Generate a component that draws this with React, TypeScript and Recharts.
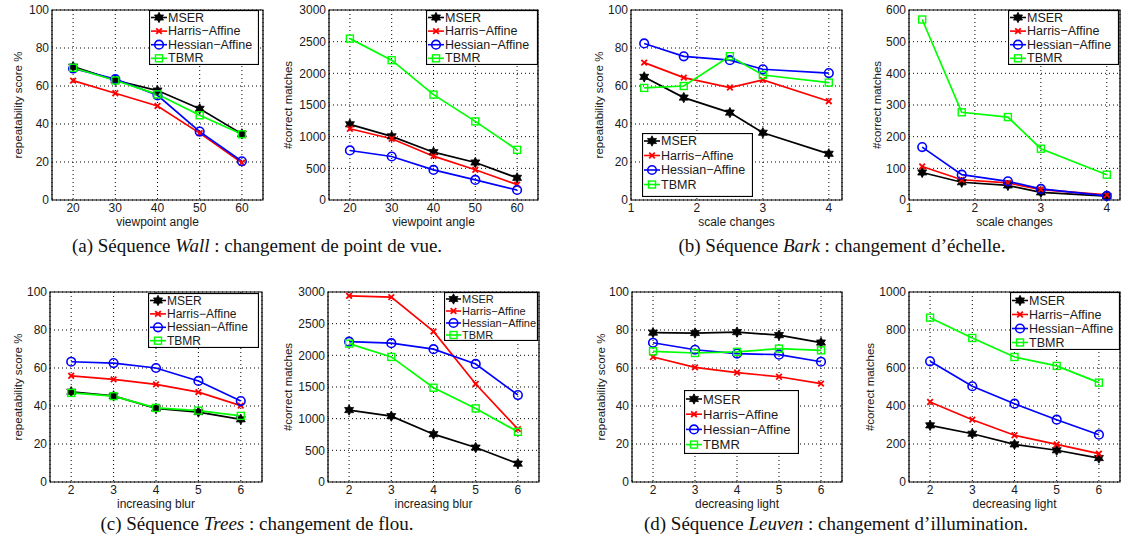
import { CartesianGrid, Legend, Line, LineChart, ReferenceArea, XAxis, YAxis } from "recharts";

const SANS = "'Liberation Sans', Arial, Helvetica, sans-serif";
const SERIF = "'Liberation Serif', 'Times New Roman', serif";

// x values
const wallAngles = [20, 30, 40, 50, 60];
const barkScales = [1.2, 1.8, 2.5, 3, 4];
const treesBlur = [2, 3, 4, 5, 6];
const leuvenLight = [2, 3, 4, 5, 6];

// (a) Wall
const wallRepMser = [70.2, 63, 57.6, 48, 34.8];
const wallRepHarris = [62.8, 56.2, 49.5, 35.2, 19.6];
const wallRepHessian = [69.2, 63.6, 55.1, 36, 20.4];
const wallRepTbmr = [69.6, 62.9, 55.6, 44.6, 34.6];
const wallMatchMser = [1195, 1005, 755, 592, 350];
const wallMatchHarris = [1125, 967, 692, 478, 243];
const wallMatchHessian = [782, 687, 475, 317, 158];
const wallMatchTbmr = [2548, 2208, 1664, 1241, 792];

// (b) Bark
const barkRepMser = [64.8, 53.9, 46, 35.4, 24.3];
const barkRepHarris = [72.3, 64.4, 59.2, 63.2, 52];
const barkRepHessian = [82.4, 75.6, 73.6, 68.8, 66.8];
const barkRepTbmr = [59, 60, 75.7, 65.8, 61.8];
const barkMatchMser = [87, 56, 46, 24, 12];
const barkMatchHarris = [106, 64, 54, 33, 16];
const barkMatchHessian = [167, 80, 59, 35, 13];
const barkMatchTbmr = [570, 277, 262, 162, 80];

// (c) Trees
const treesRepMser = [47.5, 45.3, 38.7, 36.8, 33];
const treesRepHarris = [55.9, 54, 51.4, 47.3, 40.2];
const treesRepHessian = [63.3, 62.6, 60, 53.2, 42.6];
const treesRepTbmr = [46.9, 45.2, 39, 37.6, 34.8];
const treesMatchMser = [1136, 1040, 755, 544, 290];
const treesMatchHarris = [2940, 2920, 2377, 1548, 835];
const treesMatchHessian = [2215, 2192, 2097, 1864, 1373];
const treesMatchTbmr = [2185, 1975, 1489, 1162, 792];

// (d) Leuven
const leuvenRepMser = [78.6, 78.4, 78.9, 77.3, 73.4];
const leuvenRepHarris = [65.8, 60.3, 57.6, 55.4, 51.8];
const leuvenRepHessian = [73.3, 69.6, 67.6, 67, 63.3];
const leuvenRepTbmr = [68.8, 67.9, 68.5, 70.2, 69.3];
const leuvenMatchMser = [298, 254, 198, 167, 126];
const leuvenMatchHarris = [421, 328, 246, 198, 149];
const leuvenMatchHessian = [635, 504, 412, 328, 249];
const leuvenMatchTbmr = [865, 758, 658, 611, 523];

// ticks
const angleTicks = [20, 30, 40, 50, 60];
const scaleTicks = [1, 2, 3, 4];
const stepTicks = [2, 3, 4, 5, 6];
const repTicks = [0, 20, 40, 60, 80, 100];
const match3000Ticks = [0, 500, 1000, 1500, 2000, 2500, 3000];
const match600Ticks = [0, 100, 200, 300, 400, 500, 600];
const match1000Ticks = [0, 200, 400, 600, 800, 1000];

const methodKeys = ["mser", "harris", "hessian", "tbmr"];
const methodNames = ["MSER", "Harris\u2212Affine", "Hessian\u2212Affine", "TBMR"];

const methodStyle: Record<string, { color: string; marker: string }> = {
  mser: { color: "#000000", marker: "star" },
  harris: { color: "#ff0000", marker: "cross" },
  hessian: { color: "#0000ff", marker: "circle" },
  tbmr: { color: "#00ff00", marker: "square" },
};

function buildRows(xs: number[], mser: number[], harris: number[], hessian: number[], tbmr: number[]) {
  return xs.map((x, i) => ({ x, mser: mser[i], harris: harris[i], hessian: hessian[i], tbmr: tbmr[i] }));
}

function Marker({ kind, cx, cy, color }: { kind: string; cx: number; cy: number; color: string }) {
  if (cx == null || cy == null) return null;
  if (kind === "star") {
    const pts: string[] = [];
    for (let i = 0; i < 12; i++) {
      const r = i % 2 === 0 ? 5.2 : 2.9;
      const a = ((-90 + i * 30) * Math.PI) / 180;
      pts.push(`${cx + r * Math.cos(a)},${cy + r * Math.sin(a)}`);
    }
    return <polygon points={pts.join(" ")} fill={color} stroke={color} strokeWidth={0.8} />;
  }
  if (kind === "cross") {
    const s = 2.8;
    return (
      <g stroke={color} strokeWidth={1.8}>
        <line x1={cx - s} y1={cy - s} x2={cx + s} y2={cy + s} />
        <line x1={cx - s} y1={cy + s} x2={cx + s} y2={cy - s} />
      </g>
    );
  }
  if (kind === "circle") {
    return <circle cx={cx} cy={cy} r={4.3} fill="none" stroke={color} strokeWidth={1.6} />;
  }
  return <rect x={cx - 3.5} y={cy - 3.5} width={7} height={7} fill="none" stroke={color} strokeWidth={1.4} />;
}

type LegendBox = { x: number; y: number; w: number; h: number; first: number; gap: number; fs: number; text: number };

type PanelProps = {
  left: number;
  top: number;
  w: number;
  h: number;
  rows: any[];
  xDomain: [number, number];
  xTicks: number[];
  yMax: number;
  yTicks: number[];
  xLabel: string;
  yLabel: string;
  yLabelGap: number;
  legend: LegendBox;
};

const YW = 50;
const MT = 10;

function Panel({ left, top, w, h, rows, xDomain, xTicks, yMax, yTicks, xLabel, yLabel, yLabelGap, legend }: PanelProps) {
  const chartLeft = left - YW;
  const chartTop = top - MT;
  const tick = { fontSize: 12, fontFamily: SANS, fill: "#1a1a1a" };
  return (
    <div style={{ position: "absolute", left: chartLeft, top: chartTop }}>
      <LineChart width={w + YW + 2} height={h + MT + 32} data={rows} margin={{ top: MT, right: 2, bottom: 0, left: 0 }}>
        <CartesianGrid stroke="#000" strokeDasharray="1 3" strokeWidth={1} />
        <XAxis
          type="number"
          dataKey="x"
          domain={xDomain}
          ticks={xTicks}
          interval={0}
          allowDataOverflow
          axisLine={false}
          tickLine={false}
          tickSize={0}
          tickMargin={3}
          height={32}
          tick={tick}
          label={() => (
            <text x={YW + w / 2} y={MT + h + 22} textAnchor="middle" dominantBaseline="central" fontSize={12} fontFamily={SANS} fill="#1a1a1a">
              {xLabel}
            </text>
          )}
        />
        <YAxis
          type="number"
          domain={[0, yMax]}
          ticks={yTicks}
          interval={0}
          axisLine={false}
          tickLine={false}
          tickSize={0}
          tickMargin={3}
          width={YW}
          tick={tick}
          label={() => (
            <text
              x={YW - yLabelGap}
              y={MT + h / 2}
              transform={`rotate(-90 ${YW - yLabelGap} ${MT + h / 2})`}
              textAnchor="middle"
              dominantBaseline="central"
              fontSize={11.5}
              fontFamily={SANS}
              fill="#1a1a1a"
            >
              {yLabel}
            </text>
          )}
        />
        {methodKeys.map((key, i) => {
          const st = methodStyle[key];
          return (
            <Line
              key={key}
              type="linear"
              dataKey={key}
              name={methodNames[i]}
              stroke={st.color}
              strokeWidth={1.7}
              isAnimationActive={false}
              dot={(p: any) => <Marker key={`${key}-${p.index}`} kind={st.marker} cx={p.cx} cy={p.cy} color={st.color} />}
              activeDot={false}
              legendType="line"
            />
          );
        })}
        <ReferenceArea x1={xDomain[0]} x2={xDomain[1]} y1={0} y2={yMax} fill="none" stroke="#000" strokeWidth={1.2} ifOverflow="visible" />
        <Legend
          layout="horizontal"
          verticalAlign="middle"
          align="center"
          wrapperStyle={{ left: legend.x - chartLeft, top: legend.y - chartTop, width: legend.w, height: legend.h, lineHeight: 0 }}
          content={(props: any) => {
            const payload = [...(props.payload || [])].sort(
              (a: any, b: any) => methodKeys.indexOf(a.dataKey) - methodKeys.indexOf(b.dataKey)
            );
            return (
              <svg width={legend.w} height={legend.h} style={{ display: "block" }}>
                <rect x={0.5} y={0.5} width={legend.w - 1} height={legend.h - 1} fill="#fff" stroke="#000" strokeWidth={1.2} />
                {payload.map((entry: any, i: number) => {
                  const st = methodStyle[entry.dataKey];
                  const cy = legend.first + i * legend.gap;
                  return (
                    <g key={entry.dataKey}>
                      <line x1={2} y1={cy} x2={legend.text - 1} y2={cy} stroke={st.color} strokeWidth={1.6} />
                      <Marker kind={st.marker} cx={(legend.text + 1) / 2} cy={cy} color={st.color} />
                      <text x={legend.text} y={cy} dominantBaseline="central" fontSize={legend.fs} fontFamily={SANS} fill="#1a1a1a">
                        {entry.value}
                      </text>
                    </g>
                  );
                })}
              </svg>
            );
          }}
        />
      </LineChart>
    </div>
  );
}

const BOX_W = 211;
const BOX_H = 190;

const panels: PanelProps[] = [
  {
    left: 52, top: 10, w: BOX_W, h: BOX_H,
    rows: buildRows(wallAngles, wallRepMser, wallRepHarris, wallRepHessian, wallRepTbmr),
    xDomain: [15, 65], xTicks: angleTicks, yMax: 100, yTicks: repTicks,
    xLabel: "viewpoint angle", yLabel: "repeatability score %", yLabelGap: 34,
    legend: { x: 149, y: 10, w: 110, h: 55, first: 7.5, gap: 13.6, fs: 12.5, text: 19 },
  },
  {
    left: 329, top: 10, w: BOX_W - 2, h: BOX_H,
    rows: buildRows(wallAngles, wallMatchMser, wallMatchHarris, wallMatchHessian, wallMatchTbmr),
    xDomain: [15, 65], xTicks: angleTicks, yMax: 3000, yTicks: match3000Ticks,
    xLabel: "viewpoint angle", yLabel: "#correct matches", yLabelGap: 41,
    legend: { x: 426, y: 10, w: 112, h: 55, first: 7.5, gap: 13.6, fs: 12.5, text: 19 },
  },
  {
    left: 631, top: 10, w: BOX_W, h: BOX_H,
    rows: buildRows(barkScales, barkRepMser, barkRepHarris, barkRepHessian, barkRepTbmr),
    xDomain: [1, 4.2], xTicks: scaleTicks, yMax: 100, yTicks: repTicks,
    xLabel: "scale changes", yLabel: "repeatability score %", yLabelGap: 32,
    legend: { x: 642, y: 133, w: 111, h: 64, first: 8, gap: 14.5, fs: 12.5, text: 19 },
  },
  {
    left: 909, top: 10, w: BOX_W, h: BOX_H,
    rows: buildRows(barkScales, barkMatchMser, barkMatchHarris, barkMatchHessian, barkMatchTbmr),
    xDomain: [1, 4.2], xTicks: scaleTicks, yMax: 600, yTicks: match600Ticks,
    xLabel: "scale changes", yLabel: "#correct matches", yLabelGap: 32,
    legend: { x: 1008, y: 10, w: 111, h: 55, first: 7.5, gap: 13.6, fs: 12.5, text: 19 },
  },
  {
    left: 50, top: 292, w: BOX_W + 1, h: BOX_H,
    rows: buildRows(treesBlur, treesRepMser, treesRepHarris, treesRepHessian, treesRepTbmr),
    xDomain: [1.5, 6.5], xTicks: stepTicks, yMax: 100, yTicks: repTicks,
    xLabel: "increasing blur", yLabel: "repeatability score %", yLabelGap: 32,
    legend: { x: 148, y: 293, w: 111, h: 55, first: 7.5, gap: 13.4, fs: 12, text: 19 },
  },
  {
    left: 328, top: 292, w: BOX_W, h: BOX_H,
    rows: buildRows(treesBlur, treesMatchMser, treesMatchHarris, treesMatchHessian, treesMatchTbmr),
    xDomain: [1.5, 6.5], xTicks: stepTicks, yMax: 3000, yTicks: match3000Ticks,
    xLabel: "increasing blur", yLabel: "#correct matches", yLabelGap: 40,
    legend: { x: 444, y: 292, w: 94, h: 49, first: 7, gap: 12, fs: 11, text: 18 },
  },
  {
    left: 632, top: 292, w: BOX_W - 1, h: BOX_H,
    rows: buildRows(leuvenLight, leuvenRepMser, leuvenRepHarris, leuvenRepHessian, leuvenRepTbmr),
    xDomain: [1.5, 6.5], xTicks: stepTicks, yMax: 100, yTicks: repTicks,
    xLabel: "decreasing light", yLabel: "repeatability score %", yLabelGap: 31,
    legend: { x: 684, y: 390, w: 115, h: 64, first: 9, gap: 15.2, fs: 13, text: 19 },
  },
  {
    left: 909, top: 292, w: BOX_W, h: BOX_H,
    rows: buildRows(leuvenLight, leuvenMatchMser, leuvenMatchHarris, leuvenMatchHessian, leuvenMatchTbmr),
    xDomain: [1.5, 6.5], xTicks: stepTicks, yMax: 1000, yTicks: match1000Ticks,
    xLabel: "decreasing light", yLabel: "#correct matches", yLabelGap: 39,
    legend: { x: 1010, y: 292, w: 110, h: 58, first: 8.5, gap: 14, fs: 12.5, text: 19 },
  },
];

const captions = [
  { cx: 257, cy: 246, label: "(a)", seq: "Wall", rest: " : changement de point de vue." },
  { cx: 842, cy: 246, label: "(b)", seq: "Bark", rest: " : changement d\u2019\u00e9chelle." },
  { cx: 257, cy: 524, label: "(c)", seq: "Trees", rest: " : changement de flou." },
  { cx: 836, cy: 524, label: "(d)", seq: "Leuven", rest: " : changement d\u2019illumination." },
];

export default function App() {
  return (
    <div style={{ position: "absolute", left: 0, top: 0, width: 1122, height: 540, background: "#fff", overflow: "hidden" }}>
      {panels.map((p, i) => (
        <Panel key={i} {...p} />
      ))}
      {captions.map((c) => (
        <div
          key={c.label}
          style={{
            position: "absolute",
            left: c.cx - 300,
            top: c.cy - 12,
            width: 600,
            height: 24,
            lineHeight: "24px",
            textAlign: "center",
            fontFamily: SERIF,
            fontSize: 19,
            color: "#111",
            whiteSpace: "nowrap",
          }}
        >
          {c.label} S{"\u00e9"}quence <i>{c.seq}</i>
          {c.rest}
        </div>
      ))}
    </div>
  );
}
